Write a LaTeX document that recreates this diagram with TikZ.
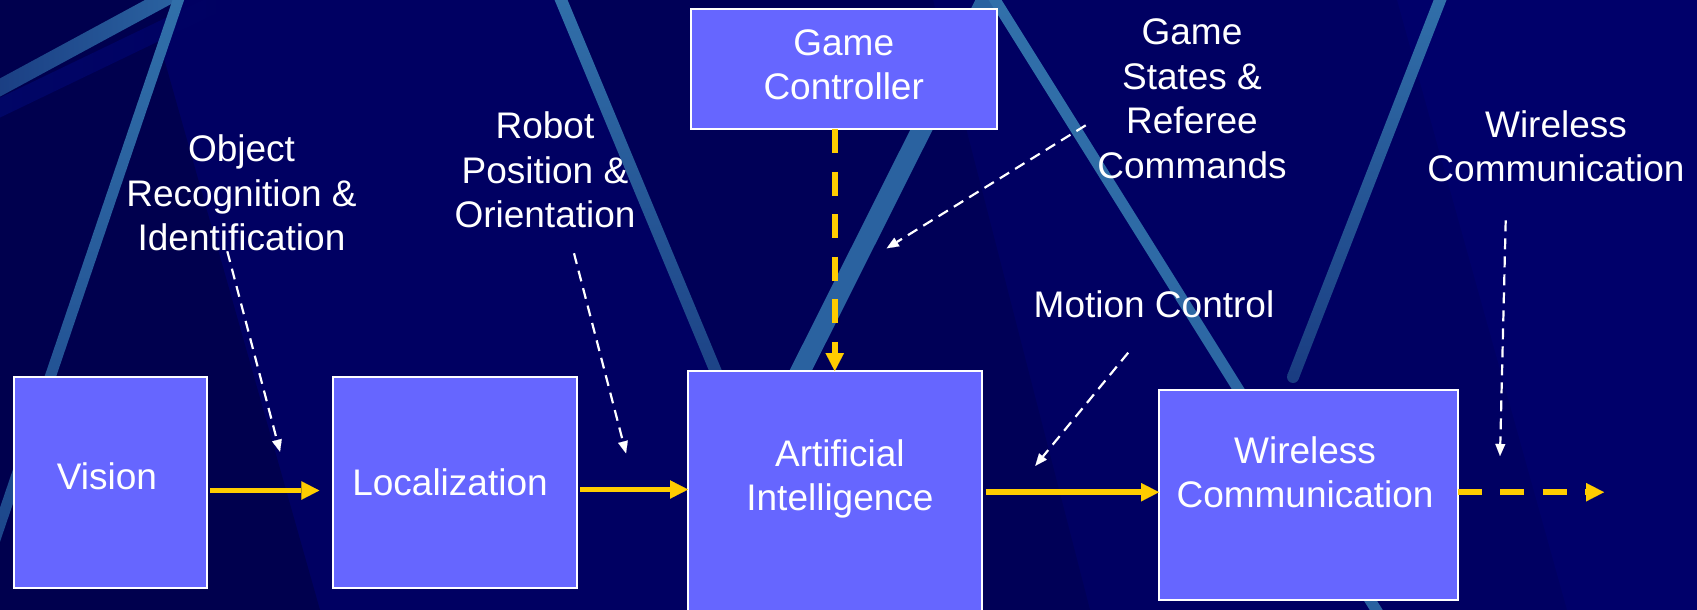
\documentclass[tikz,border=0pt]{standalone}
\usepackage{fontspec}
\setmainfont{Liberation Sans}
\usetikzlibrary{arrows.meta,calc}

\definecolor{bgnavy}{HTML}{000062}
\definecolor{bgdark}{HTML}{00004E}
\definecolor{bgmid}{HTML}{000057}
\definecolor{bglight}{HTML}{00006A}
\definecolor{haze}{HTML}{010666}
\definecolor{beamhi}{HTML}{3170AA}
\definecolor{beammid}{HTML}{2A62A0}
\definecolor{beamlo}{HTML}{1C458A}
\definecolor{beamdeep}{HTML}{1A3D82}
\definecolor{boxfill}{HTML}{6666FF}
\definecolor{flowyellow}{HTML}{FFCC00}

% a straight light beam of the backdrop, filled with a shading
% #1 start, #2 end, #3 half width, #4 shading options
\newcommand\beamstripe[4]{%
  \shade[#4] ($#1!#3!90:#2$) -- ($#2!#3!-90:#1$) -- ($#2!#3!90:#1$) -- ($#1!#3!-90:#2$) -- cycle;}

\begin{document}
\begin{tikzpicture}[x=1pt,y=-1pt,
  box/.style={draw=white, line width=2pt, fill=boxfill, inner sep=0pt, outer sep=0pt},
  txt/.style={text=white, align=center, inner sep=0pt,
              font=\fontsize{37}{44.5}\selectfont},
  flow/.style={draw=flowyellow, line width=5.7pt,
               -{Triangle[length=18pt,width=18.5pt,line width=0.1pt]}},
  flowdash/.style={flow, dash pattern=on 24pt off 18.5pt},
  hint/.style={draw=white, line width=2.2pt, dash pattern=on 11pt off 7pt,
               -{Triangle[length=12pt,width=10pt,line width=0.1pt]}},
]
\useasboundingbox (0,0) rectangle (1697,610);
\clip (0,0) rectangle (1697,610);

% ---------- backdrop ----------
\fill[bgnavy] (0,0) rectangle (1697,610);
\fill[bgdark] (0,0) -- (179,0) -- (163,55) -- (320,610) -- (0,610) -- cycle;
\fill[bgmid] (561,0) -- (933,0) -- (1090,610) -- (815,610) -- cycle;
\fill[bglight] (1397,0) -- (1697,0) -- (1697,610) -- (1567,610) -- cycle;

\beamstripe{(-5,110)}{(232,-4)}{9pt}{left color=haze, right color=bgnavy}
\beamstripe{(-5,90.2)}{(171,-5)}{8pt}{left color=beamdeep, right color=beammid}
\beamstripe{(180,-5)}{(-12,560)}{5.5pt}{top color=beamhi, bottom color=beamlo}
\beamstripe{(559,-5)}{(736,420)}{6pt}{top color=beamhi, bottom color=beamdeep}
\beamstripe{(989,-5)}{(795,382)}{10pt}{top color=beammid, bottom color=beammid}
\beamstripe{(992,-5)}{(1380,616)}{5.5pt}{top color=beamhi, bottom color=beammid}
\beamstripe{(1442,-5)}{(1293,377)}{6pt}{top color=beamhi, bottom color=beamdeep}
\fill[beamdeep] (1293,377) circle (6pt);

% ---------- blocks ----------
\node[box, minimum width=193pt,   minimum height=211pt]   (vision) at (110.8,482.2) {};
\node[box, minimum width=243.7pt, minimum height=210.8pt] (loc)    at (455.2,482.1) {};
\node[box, minimum width=306pt,   minimum height=120pt]   (gc)     at (844,69) {};
\node[box, minimum width=293.5pt, minimum height=260pt, anchor=north] (ai) at (834.75,371) {};
\node[box, minimum width=298.5pt, minimum height=210.4pt] (wc)     at (1308.25,495.2) {};

\node[txt] (vision-t) at ($(vision)+(-3.8,-5.5)$) {Vision};
\node[txt] (loc-t)    at ($(loc)+(-5.2,0.6)$)     {Localization};
\node[txt] (gc-t)     at ($(gc)+(-0.3,-4.3)$)     {Game\\Controller};
\node[txt] (ai-t)     at ($(ai.north)+(5.2,108)$) {Artificial\\Intelligence};
\node[txt] (wc-t)     at ($(wc)+(-3.2,-22.9)$)    {Wireless\\Communication};

% ---------- free labels ----------
\node[txt] (objlbl) at (241.5,193)  {Object\\Recognition \&\\Identification};
\node[txt] (roblbl) at (545,170)    {Robot\\Position \&\\Orientation};
\node[txt] (gslbl)  at (1192,98.7)  {Game\\States \&\\Referee\\Commands};
\node[txt] (mclbl)  at (1154,304)   {Motion Control};
\node[txt] (wllbl)  at (1556,146.3) {Wireless\\Communication};

% ---------- data flow ----------
\path (loc.east) ++(3,7.4) coordinate (la);
\path (ai.east |- wc.west) ++(4,-3) coordinate (aw);
\coordinate (out) at (1604,492.2);

\draw[flow] ($(vision.east)+(3,8.3)$) -- ($(loc.west)+(-14,8.4)$);
\draw[flow] (la) -- (la -| ai.west);
\draw[flow] (aw) -- (aw -| wc.west);
\draw[flowdash] ($(wc.east)+(0,-3)$) -- (out);
\draw[flowdash] (gc.south -| ai.north) -- (ai.north);

% ---------- pointers from the labels ----------
\coordinate (objtip) at (280,451.7);
\coordinate (robtip) at (626,453.3);
\coordinate (gstip)  at (886.7,248.3);
\coordinate (mctip)  at (1035.3,465.8);
\coordinate (wltip)  at (1500,456);

\draw[hint] ($(objlbl.south)+(-14.2,0)$)  -- (objtip);
\draw[hint] ($(roblbl.south)+(29,25)$)    -- (robtip);
\draw[hint] ($(gslbl.west)+(-11.5,26.6)$) -- (gstip);
\draw[hint] ($(mclbl.south)+(-25.8,34.9)$) -- (mctip);
\draw[hint] ($(wllbl.south)+(-50.3,38.1)$) -- (wltip);
\end{tikzpicture}
\end{document}
